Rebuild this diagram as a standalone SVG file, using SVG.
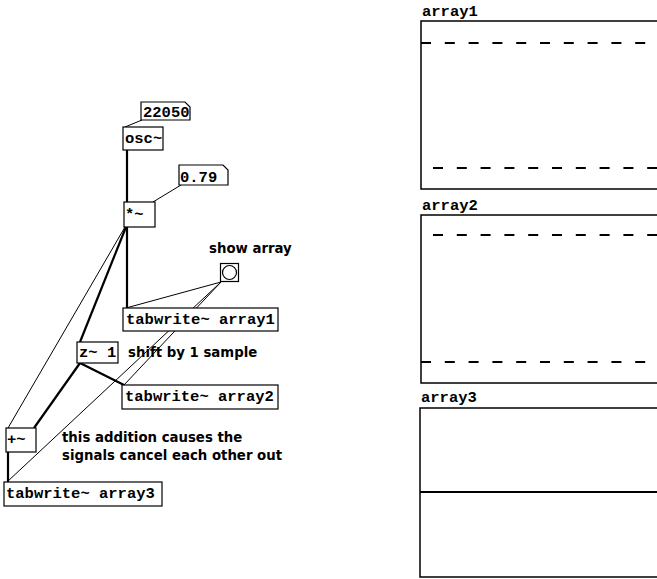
<svg xmlns="http://www.w3.org/2000/svg" width="657" height="579" viewBox="0 0 657 579">
<style>
.box{fill:#fff;stroke:#000;stroke-width:1.2}
.t{font-family:"Liberation Mono","Courier New",monospace;font-weight:bold;font-size:15.5px;fill:#000}
.c{font-family:"DejaVu Sans",sans-serif;font-weight:bold;font-size:13.3px;fill:#000}
.thin{stroke:#000;stroke-width:1;fill:none}
.thick{stroke:#000;stroke-width:2.2;fill:none}
.gbox{fill:#fff;stroke:#000;stroke-width:1.5}
.dash{stroke:#000;stroke-width:2.2;stroke-dasharray:10 13.8;fill:none}
</style>
<rect width="657" height="579" fill="#fff"/>
<g id="connectors">
<line class="thin" x1="142" y1="120" x2="125" y2="127"/>
<line class="thick" x1="127" y1="150" x2="127" y2="202"/>
<line class="thin" x1="181" y1="185" x2="153" y2="202"/>
<line class="thick" x1="127" y1="227" x2="127" y2="308"/>
<line class="thick" x1="126" y1="227" x2="80" y2="342"/>
<line class="thin" x1="125" y1="227" x2="8" y2="428"/>
<line class="thick" x1="80" y1="363" x2="124" y2="385"/>
<line class="thick" x1="80" y1="363" x2="34" y2="428"/>
<line class="thick" x1="8" y1="452" x2="8" y2="482"/>
<line class="thin" x1="221" y1="282" x2="126" y2="308"/>
<line class="thin" x1="221" y1="282" x2="124" y2="385"/>
<line class="thin" x1="221" y1="282" x2="7" y2="482"/>
</g>
<g id="num22050">
<path class="box" d="M141,102 H185 L190,107 V120 H141 Z"/>
<text class="t" x="143" y="117">22050</text>
</g>
<g id="osc">
<rect class="box" x="123" y="127" width="40" height="23"/>
<text class="t" x="125" y="143">osc~</text>
</g>
<g id="num079">
<path class="box" d="M179,165 H223 L228,170 V185 H179 Z"/>
<text class="t" x="180" y="182">0.79</text>
</g>
<g id="mul">
<rect class="box" x="124" y="202" width="31" height="25"/>
<text class="t" x="125" y="219">*~</text>
</g>
<g id="showarray">
<text class="c" x="209" y="253">show array</text>
</g>
<g id="bang">
<rect class="box" x="220.5" y="263.5" width="18" height="18"/>
<circle cx="229.5" cy="272.5" r="7" fill="none" stroke="#000" stroke-width="1.2"/>
</g>
<g id="tab1">
<rect class="box" x="123" y="308" width="155" height="23"/>
<text class="t" x="126" y="324">tabwrite~ array1</text>
</g>
<g id="z1">
<rect class="box" x="77" y="342" width="41" height="21"/>
<text class="t" x="79" y="357">z~ 1</text>
</g>
<g id="shift">
<text class="c" x="128" y="357">shift by 1 sample</text>
</g>
<g id="tab2">
<rect class="box" x="122" y="385" width="156" height="24"/>
<text class="t" x="125" y="401">tabwrite~ array2</text>
</g>
<g id="plus">
<rect class="box" x="6" y="428" width="30" height="24"/>
<text class="t" x="7" y="444">+~</text>
</g>
<g id="comment">
<text class="c" x="62" y="442">this addition causes the</text>
<text class="c" x="62" y="460">signals cancel each other out</text>
</g>
<g id="tab3">
<rect class="box" x="4" y="482" width="158" height="24"/>
<text class="t" x="6" y="498">tabwrite~ array3</text>
</g>
<g id="array1">
<text class="t" x="422" y="16">array1</text>
<rect class="gbox" x="421" y="21" width="250" height="168"/>
<line class="dash" x1="421" y1="43" x2="657" y2="43"/>
<line class="dash" x1="433" y1="168" x2="657" y2="168"/>
</g>
<g id="array2">
<text class="t" x="422" y="210">array2</text>
<rect class="gbox" x="421" y="215" width="250" height="168"/>
<line class="dash" x1="433" y1="235" x2="657" y2="235"/>
<line class="dash" x1="421" y1="362" x2="657" y2="362"/>
</g>
<g id="array3">
<text class="t" x="421" y="402">array3</text>
<rect class="gbox" x="420" y="408" width="250" height="169"/>
<line x1="420" y1="492" x2="657" y2="492" stroke="#000" stroke-width="2.2"/>
</g>
</svg>
